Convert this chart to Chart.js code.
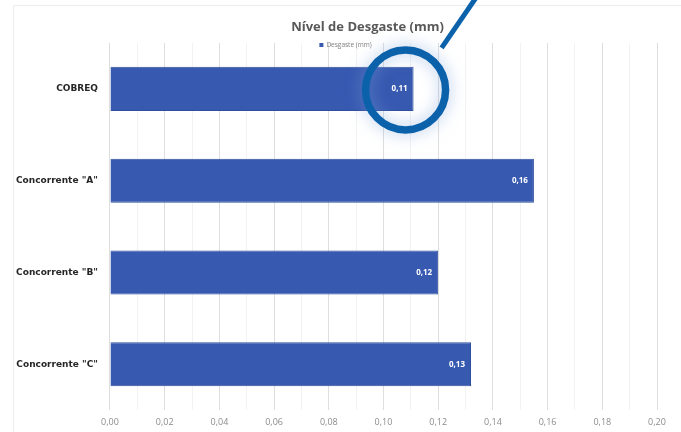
<!DOCTYPE html>
<html>
<head>
<meta charset="utf-8">
<script src="https://cdn.jsdelivr.net/npm/chart.js@4.4.0/dist/chart.umd.min.js"></script>
<style>
  html, body { margin: 0; padding: 0; background: #ffffff; }
  #wrap { width: 681px; height: 432px; }
</style>
</head>
<body>
<div id="wrap"><canvas id="wearchart"></canvas></div>
<script>
// Data
var categories = ['COBREQ', 'Concorrente "A"', 'Concorrente "B"', 'Concorrente "C"'];
var wearValues = [0.111, 0.155, 0.120, 0.132];
var seriesName = 'Desgaste (mm)';
var chartTitle = 'Nível de Desgaste (mm)';

function formatComma(v) {
    return (Math.round(v * 100) / 100).toFixed(2).replace('.', ',');
}

// value labels drawn white inside the bar end
const valueLabels = {
    id: 'valueLabels',
    afterDatasetsDraw(chart) {
        const ctx = chart.ctx;
        const meta = chart.getDatasetMeta(0);
        ctx.save();
        ctx.font = 'bold 8px "Open Sans"';
        ctx.fillStyle = '#ffffff';
        ctx.textAlign = 'right';
        ctx.textBaseline = 'middle';
        meta.data.forEach(function (bar, i) {
            ctx.fillText(formatComma(chart.data.datasets[0].data[i]), bar.x - 6, bar.y);
        });
        ctx.restore();
    }
};

// title and small legend, placed a little right of centre like the original
const header = {
    id: 'header',
    afterDraw(chart) {
        const ctx = chart.ctx;
        const ds = chart.data.datasets[0];
        ctx.save();
        ctx.textBaseline = 'middle';
        ctx.textAlign = 'center';
        ctx.fillStyle = '#595959';
        ctx.font = 'bold 13px "Open Sans"';
        ctx.fillText(chartTitle, chart.width / 2 + 27, chart.chartArea.top - 16);

        ctx.font = '6.5px "Open Sans"';
        const w = ctx.measureText(ds.label).width + 7;
        const x = chart.width / 2 + 5 - w / 2;
        const y = chart.chartArea.top + 2;
        ctx.fillStyle = ds.backgroundColor;
        ctx.fillRect(x, y - 2, 4, 4);
        ctx.fillStyle = '#7f7f7f';
        ctx.textAlign = 'left';
        ctx.fillText(ds.label, x + 7, y);
        ctx.restore();
    }
};

// faint outer frame of the chart
const frame = {
    id: 'frame',
    beforeDraw(chart) {
        const ctx = chart.ctx;
        ctx.save();
        ctx.strokeStyle = '#ececec';
        ctx.lineWidth = 1;
        ctx.beginPath();
        ctx.moveTo(13.5, chart.height);
        ctx.lineTo(13.5, 5.5);
        ctx.lineTo(chart.width, 5.5);
        ctx.stroke();
        ctx.restore();
    }
};

// blue highlight ring round the first bar's label
const highlight = {
    id: 'highlight',
    afterDraw(chart) {
        const bar = chart.getDatasetMeta(0).data[0];
        const cx = bar.x - 8, cy = bar.y + 1;
        const ctx = chart.ctx;
        ctx.save();
        ctx.strokeStyle = '#0b62ab';
        ctx.shadowColor = 'rgba(120,160,220,0.6)';
        ctx.shadowBlur = 16;
        ctx.lineWidth = 7.5;
        ctx.beginPath();
        ctx.arc(cx, cy, 40, 0, Math.PI * 2);
        ctx.stroke();
        ctx.shadowBlur = 0;
        ctx.lineWidth = 5;
        ctx.beginPath();
        ctx.moveTo(cx + 36, cy - 42);
        ctx.lineTo(cx + 84, cy - 112);
        ctx.stroke();
        ctx.restore();
    }
};

const wearchart = new Chart(document.getElementById('wearchart'), {
    type: 'bar',
    data: {
        labels: categories,
        datasets: [
            {
                label: seriesName,
                data: wearValues,
                backgroundColor: '#3759b0',
                borderColor: '#2f4f9c',
                borderWidth: 1,
                barPercentage: 1,
                categoryPercentage: 0.48,
            },
        ],
    },
    options: {
        indexAxis: 'y',
        responsive: true,
        maintainAspectRatio: false,
        animation: false,
        layout: {
            padding: { left: 12, right: 24, top: 43, bottom: -3 }
        },
        plugins: {
            title: { display: false },
            legend: { display: false },
            tooltip: { enabled: false }
        },
        scales: {
            x: {
                min: 0,
                max: 0.2,
                border: { display: false },
                grid: {
                    color: function (c) {
                        return c.index % 2 === 0 ? '#dedede' : '#f2f2f2';
                    },
                    drawTicks: false
                },
                ticks: {
                    stepSize: 0.01,
                    autoSkip: false,
                    maxRotation: 0,
                    padding: 7,
                    color: '#8c8c8c',
                    font: { family: 'Open Sans', size: 9 },
                    callback: function (v, i) {
                        return i % 2 === 0 ? formatComma(v) : '';
                    }
                }
            },
            y: {
                border: { display: false },
                grid: { display: false },
                ticks: {
                    color: '#262626',
                    padding: 4,
                    font: { family: 'DejaVu Sans', size: 9, weight: 'bold' }
                }
            }
        }
    },
    plugins: [frame, valueLabels, header, highlight]
});
</script>
</body>
</html>
